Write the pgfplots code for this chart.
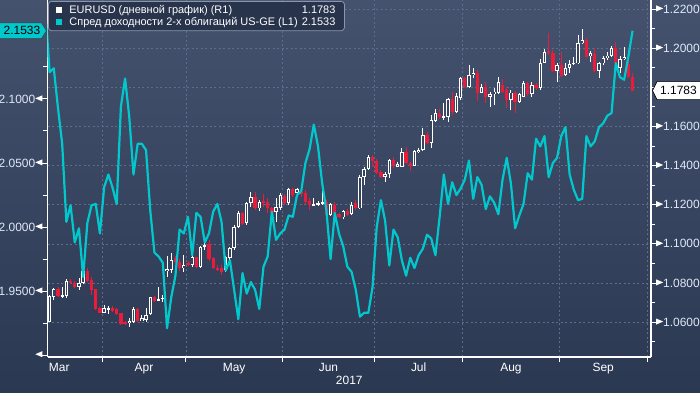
\documentclass[border=0pt]{standalone}
\usepackage{fontspec}
\setmainfont{Liberation Sans}
\usepackage{pgfplots}
\usepackage{pgfplotstable}
\pgfplotsset{compat=1.18}
\definecolor{bgtop}{RGB}{68,82,110}
\definecolor{bgbot}{RGB}{43,56,82}
\definecolor{bodyin}{RGB}{54,67,94}
\definecolor{tealc}{RGB}{0,200,204}
\definecolor{redc}{RGB}{235,28,58}
\definecolor{gridc}{RGB}{92,110,140}
\definecolor{tickc}{RGB}{222,232,246}
\definecolor{legbg}{RGB}{40,52,76}
\definecolor{legbd}{RGB}{140,150,168}

\pgfplotstableread{
i o h l c
0 1.0602 1.0739 1.0600 1.0734
1 1.0730 1.0773 1.0713 1.0768
2 1.0768 1.0778 1.0730 1.0734
3 1.0730 1.0781 1.0722 1.0739
4 1.0735 1.0819 1.0722 1.0812
5 1.0812 1.0819 1.0795 1.0798
6 1.0802 1.0810 1.0775 1.0781
7 1.0781 1.0824 1.0764 1.0802
8 1.0800 1.0880 1.0795 1.0862
9 1.0862 1.0875 1.0805 1.0812
10 1.0815 1.0832 1.0739 1.0764
11 1.0768 1.0771 1.0662 1.0667
12 1.0674 1.0679 1.0645 1.0648
13 1.0648 1.0688 1.0645 1.0671
14 1.0665 1.0683 1.0642 1.0671
15 1.0672 1.0683 1.0654 1.0659
16 1.0665 1.0671 1.0636 1.0642
17 1.0645 1.0648 1.0585 1.0589
18 1.0602 1.0608 1.0585 1.0594
19 1.0594 1.0623 1.0577 1.0608
20 1.0602 1.0676 1.0594 1.0667
21 1.0667 1.0674 1.0602 1.0608
22 1.0608 1.0636 1.0608 1.0619
23 1.0611 1.0671 1.0602 1.0636
24 1.0642 1.0730 1.0636 1.0727
25 1.0727 1.0734 1.0705 1.0710
26 1.0710 1.0781 1.0710 1.0717
27 1.0717 1.0739 1.0705 1.0725
28 1.0860 1.0938 1.0830 1.0872
29 1.0866 1.0951 1.0849 1.0917
30 1.0926 1.0940 1.0900 1.0909
31 1.0909 1.0925 1.0860 1.0875
32 1.0875 1.0943 1.0857 1.0892
33 1.0903 1.0915 1.0885 1.0895
34 1.0892 1.0940 1.0880 1.0931
35 1.0931 1.0935 1.0875 1.0883
36 1.0883 1.0990 1.0878 1.0985
37 1.0985 1.1028 1.0968 1.0994
38 1.0999 1.1022 1.0915 1.0922
39 1.0926 1.0935 1.0870 1.0875
40 1.0875 1.0890 1.0860 1.0869
41 1.0875 1.0892 1.0840 1.0857
42 1.0866 1.0940 1.0855 1.0934
43 1.0926 1.0985 1.0915 1.0977
44 1.0977 1.1095 1.0970 1.1088
45 1.1088 1.1170 1.1080 1.1159
46 1.1159 1.1165 1.1095 1.1101
47 1.1105 1.1212 1.1095 1.1207
48 1.1207 1.1266 1.1190 1.1241
49 1.1241 1.1266 1.1173 1.1181
50 1.1181 1.1225 1.1170 1.1215
51 1.1219 1.1255 1.1190 1.1210
52 1.1215 1.1232 1.1159 1.1181
53 1.1181 1.1190 1.1113 1.1164
54 1.1164 1.1232 1.1113 1.1190
55 1.1185 1.1258 1.1173 1.1249
56 1.1244 1.1255 1.1200 1.1210
57 1.1210 1.1285 1.1200 1.1280
58 1.1278 1.1285 1.1240 1.1249
59 1.1258 1.1283 1.1249 1.1278
60 1.1266 1.1275 1.1241 1.1258
61 1.1261 1.1275 1.1204 1.1215
62 1.1219 1.1232 1.1173 1.1198
63 1.1198 1.1232 1.1195 1.1202
64 1.1202 1.1220 1.1195 1.1210
65 1.1207 1.1300 1.1198 1.1215
66 1.1215 1.1225 1.1140 1.1147
67 1.1147 1.1210 1.1140 1.1202
68 1.1198 1.1215 1.1139 1.1156
69 1.1152 1.1160 1.1130 1.1135
70 1.1135 1.1175 1.1125 1.1169
71 1.1169 1.1180 1.1140 1.1147
72 1.1151 1.1215 1.1147 1.1198
73 1.1207 1.1224 1.1173 1.1181
74 1.1181 1.1352 1.1180 1.1343
75 1.1340 1.1394 1.1300 1.1382
76 1.1382 1.1454 1.1375 1.1445
77 1.1445 1.1454 1.1394 1.1425
78 1.1425 1.1432 1.1357 1.1364
79 1.1369 1.1380 1.1335 1.1343
80 1.1343 1.1369 1.1318 1.1357
81 1.1357 1.1432 1.1335 1.1428
82 1.1428 1.1445 1.1386 1.1399
83 1.1394 1.1420 1.1394 1.1408
84 1.1394 1.1488 1.1391 1.1467
85 1.1467 1.1496 1.1408 1.1411
86 1.1411 1.1420 1.1374 1.1399
87 1.1399 1.1479 1.1396 1.1474
88 1.1467 1.1488 1.1462 1.1479
89 1.1479 1.1590 1.1476 1.1556
90 1.1556 1.1570 1.1510 1.1517
91 1.1517 1.1658 1.1488 1.1633
92 1.1628 1.1687 1.1624 1.1667
93 1.1663 1.1687 1.1636 1.1646
94 1.1646 1.1718 1.1633 1.1653
95 1.1650 1.1744 1.1624 1.1738
96 1.1738 1.1778 1.1658 1.1675
97 1.1675 1.1769 1.1667 1.1756
98 1.1744 1.1854 1.1735 1.1849
99 1.1849 1.1855 1.1795 1.1803
100 1.1803 1.1914 1.1795 1.1863
101 1.1863 1.1897 1.1846 1.1875
102 1.1875 1.1888 1.1732 1.1773
103 1.1773 1.1817 1.1769 1.1803
104 1.1803 1.1829 1.1721 1.1752
105 1.1752 1.1778 1.1698 1.1766
106 1.1766 1.1795 1.1710 1.1778
107 1.1773 1.1854 1.1766 1.1829
108 1.1812 1.1841 1.1769 1.1778
109 1.1786 1.1803 1.1692 1.1735
110 1.1735 1.1786 1.1684 1.1773
111 1.1773 1.1783 1.1670 1.1727
112 1.1727 1.1773 1.1718 1.1766
113 1.1752 1.1834 1.1749 1.1824
114 1.1820 1.1829 1.1756 1.1766
115 1.1766 1.1829 1.1749 1.1812
116 1.1812 1.1824 1.1786 1.1798
117 1.1798 1.1943 1.1786 1.1926
118 1.1926 1.1994 1.1922 1.1982
119 1.1986 1.2076 1.1965 1.1974
120 1.1974 1.1991 1.1880 1.1885
121 1.1885 1.1926 1.1829 1.1914
122 1.1914 1.1982 1.1854 1.1858
123 1.1863 1.1926 1.1858 1.1897
124 1.1897 1.1940 1.1871 1.1919
125 1.1919 1.1953 1.1914 1.1926
126 1.1922 1.2067 1.1919 1.2025
127 1.2025 1.2096 1.2021 1.2042
128 1.2042 1.2050 1.1955 1.1957
129 1.1960 1.1987 1.1931 1.1974
130 1.1970 1.2000 1.1880 1.1885
131 1.1885 1.1931 1.1846 1.1922
132 1.1922 1.1960 1.1914 1.1948
133 1.1948 1.1982 1.1940 1.1962
134 1.1962 1.2011 1.1957 1.2000
135 1.2000 1.2033 1.1897 1.1922
136 1.1897 1.1960 1.1871 1.1943
137 1.1943 1.2008 1.1940 1.1953
138 1.1919 1.1943 1.1846 1.1851
139 1.1851 1.1871 1.1783 1.1783
}\candles

\pgfplotstableread{
i s
-1 2.170
0 2.121
1 2.124
2 2.093
3 2.065
4 2.004
5 2.017
6 1.988
7 1.999
8 1.961
9 2.003
10 2.017
11 2.018
12 1.995
13 2.031
14 2.041
15 2.031
16 2.018
17 2.094
18 2.116
19 2.086
20 2.041
21 2.065
22 2.065
23 2.060
24 2.013
25 1.980
26 1.977
27 1.972
28 1.921
29 1.945
30 1.962
31 1.998
32 1.995
33 2.008
34 1.978
35 2.011
36 2.008
37 1.988
38 1.995
39 2.012
40 2.018
41 2.004
42 1.966
43 1.974
44 1.951
45 1.928
46 1.964
47 1.948
48 1.957
49 1.951
50 1.936
51 1.969
52 1.977
53 2.012
54 1.990
55 1.995
56 1.998
57 2.009
58 2.008
59 2.025
60 2.028
61 2.050
62 2.061
63 2.080
64 2.063
65 2.034
66 2.013
67 1.975
68 2.011
69 1.995
70 1.985
71 1.969
72 1.965
73 1.951
74 1.930
75 1.933
76 1.933
77 1.953
78 2.000
79 2.021
80 2.005
81 1.970
82 1.998
83 1.992
84 1.974
85 1.962
86 1.976
87 1.968
88 1.978
89 1.983
90 1.994
91 1.991
92 1.978
93 2.008
94 2.041
95 2.018
96 2.035
97 2.025
98 2.030
99 2.037
100 2.052
101 2.022
102 2.039
103 2.033
104 2.014
105 2.024
106 2.019
107 2.010
108 2.037
109 2.054
110 2.034
111 1.999
112 2.009
113 2.018
114 2.042
115 2.037
116 2.069
117 2.063
118 2.071
119 2.039
120 2.050
121 2.054
122 2.071
123 2.078
124 2.041
125 2.029
126 2.021
127 2.022
128 2.071
129 2.063
130 2.067
131 2.078
132 2.081
133 2.087
134 2.089
135 2.128
136 2.117
137 2.115
138 2.133
139 2.1533
}\spread

\newcommand{\ltri}{\tikz[baseline=-0.75ex]\fill[white] (0,0)--(7bp,3bp)--(7bp,-3bp)--cycle;}
\newcommand{\rtri}{\tikz[baseline=-0.75ex]\fill[white] (0,3bp)--(7bp,0)--(0,-3bp)--cycle;}

\begin{document}
\begin{tikzpicture}
\shade[top color=bgtop, bottom color=bgbot] (-47.5bp,-36bp) rectangle (652.5bp,357bp);
\path[use as bounding box] (-47.5bp,-36bp) rectangle (652.5bp,357bp);

% ---------- EURUSD candles, right axis ----------
\begin{axis}[
  at={(0,0)}, anchor=south west, scale only axis,
  width=603.5bp, height=357bp,
  xmin=0, xmax=143.9, ymin=1.0422, ymax=1.2246,
  axis y line*=right, axis x line*=bottom,
  axis line style={white, line width=1.1bp, -},
  clip mode=individual,
  /pgf/number format/assume math mode=true,
  tick align=outside,
  major tick length=5bp, minor tick length=4bp,
  tick style={white, line width=1bp},
  xtick={13,33,56,78,99,122,143}, xticklabels={},
  extra x ticks={2.8,23,44.5,67,88.5,110.5,132.5},
  extra x tick labels={Mar,Apr,May,Jun,Jul,Aug,Sep},
  extra x tick style={grid=none, major tick length=0pt},
  xticklabel style={text=white, font=\fontsize{12}{14}\selectfont, inner sep=0pt, yshift=-6bp},
  xlabel={2017},
  xlabel style={at={(axis description cs:0.5,0)}, anchor=north, yshift=-19bp, text=white, font=\fontsize{12}{14}\selectfont, inner sep=0pt},
  ytick={1.06,1.08,1.10,1.12,1.14,1.16,1.20,1.22},
  extra y ticks={1.18}, extra y tick labels={},
  extra y tick style={grid=major},
  minor ytick={1.05,1.07,1.09,1.11,1.13,1.15,1.17,1.19,1.21},
  yticklabel={\rtri\pgfmathprintnumber[fixed,fixed zerofill,precision=4]{\tick}},
  yticklabel style={anchor=west, inner sep=0pt, text=tickc, font=\fontsize{12}{14}\selectfont},
  xmajorgrids, ymajorgrids,
  major grid style={gridc, dash pattern=on 2bp off 2.5bp, line width=0.7bp},
]
% white wicks
\addplot[forget plot, draw=none, mark=none, error bars/.cd, y dir=both, y explicit, error mark=none,
  error bar style={draw=white, line width=0.9bp}]
  table[x expr=\thisrow{i}+0.5, y expr=(\thisrow{h}+\thisrow{l})/2,
        y error expr={(\thisrow{c}>=\thisrow{o}) ? (\thisrow{h}-\thisrow{l})/2 : 0}] {\candles};
% red wicks
\addplot[forget plot, draw=none, mark=none, error bars/.cd, y dir=both, y explicit, error mark=none,
  error bar style={draw=redc, line width=0.9bp}]
  table[x expr=\thisrow{i}+0.5, y expr=(\thisrow{h}+\thisrow{l})/2,
        y error expr={(\thisrow{c}<\thisrow{o}) ? (\thisrow{h}-\thisrow{l})/2 : 0}] {\candles};
% white bodies (outer)
\addplot[forget plot, draw=none, mark=none, error bars/.cd, y dir=both, y explicit, error mark=none,
  error bar style={draw=white, line width=3.3bp}]
  table[x expr=\thisrow{i}+0.5, y expr=(\thisrow{o}+\thisrow{c})/2,
        y error expr={(\thisrow{c}>=\thisrow{o}) ? max((\thisrow{c}-\thisrow{o})/2,0.0003) : 0}] {\candles};
% white bodies (hollow inside)
\addplot[forget plot, draw=none, mark=none, error bars/.cd, y dir=both, y explicit, error mark=none,
  error bar style={draw=bodyin, line width=1.5bp}]
  table[x expr=\thisrow{i}+0.5, y expr=(\thisrow{o}+\thisrow{c})/2,
        y error expr={(\thisrow{c}>=\thisrow{o}) ? max((\thisrow{c}-\thisrow{o})/2-0.00046,0) : 0}] {\candles};
% red bodies
\addplot[forget plot, draw=none, mark=none, error bars/.cd, y dir=both, y explicit, error mark=none,
  error bar style={draw=redc, line width=3.3bp}]
  table[x expr=\thisrow{i}+0.5, y expr=(\thisrow{o}+\thisrow{c})/2,
        y error expr={(\thisrow{c}<\thisrow{o}) ? max((\thisrow{o}-\thisrow{c})/2,0.0003) : 0}] {\candles};
\coordinate (tagR) at (axis cs:143.9,1.1783);
\end{axis}

% ---------- yield spread, left axis ----------
\begin{axis}[
  at={(0,0)}, anchor=south west, scale only axis,
  width=603.5bp, height=357bp,
  xmin=0, xmax=143.9, ymin=1.8985, ymax=2.1773,
  axis y line*=left, hide x axis,
  axis line style={white, line width=1.1bp, -},
  clip mode=individual,
  /pgf/number format/assume math mode=true,
  tick align=outside,
  major tick length=5bp, minor tick length=4bp,
  tick style={white, line width=1bp},
  ytick={1.95,2.0,2.05,2.1},
  minor ytick={1.925,1.975,2.025,2.075,2.125},
  extra y ticks={1.9}, extra y tick labels={\ltri},
  yticklabel={\pgfmathprintnumber[fixed,fixed zerofill,precision=4]{\tick}\ltri},
  yticklabel style={anchor=east, inner sep=0pt, text=tickc, font=\fontsize{12}{14}\selectfont},
  legend style={at={(axis description cs:0,1)}, anchor=north west, xshift=0.5bp, yshift=-1bp,
    draw=legbd, fill=legbg, rounded corners=3bp, line width=0.8bp,
    text=white, font=\fontsize{11}{13}\selectfont,
    inner xsep=7.5bp, inner ysep=2.5bp, row sep=-1bp,
    nodes={inner sep=1.5bp}},
  legend cell align=left,
]
\addlegendimage{legend image code/.code={\fill[white, draw=none, sharp corners] (0bp,-3.2bp) rectangle (6.5bp,3.3bp); \path[draw=none, fill=none] (0bp,0bp) -- (12bp,0bp);}}
\addlegendentry{\makebox[266bp][l]{EURUSD (дневной график) (R1)\hfill 1.1783}}
\addplot[tealc, line width=2.2bp, line join=round, mark=none,
  legend image code/.code={\fill[tealc, draw=none, sharp corners] (0bp,-3.2bp) rectangle (6.5bp,3.3bp); \path[draw=none, fill=none] (0bp,0bp) -- (12bp,0bp);}]
  table[x expr=\thisrow{i}+0.5, y=s] {\spread};
\addlegendentry{\makebox[266bp][l]{Спред доходности 2-х облигаций US-GE (L1)\hfill 2.1533}}
\coordinate (tagL) at (axis cs:0,2.1533);
\end{axis}

% value tags
\draw[fill=tealc, draw=black!75, line width=0.6bp]
  ([xshift=-1bp]tagL) -- ++(-5bp,8bp) -- ++(-50bp,0) -- ++(0,-16bp) -- ++(50bp,0) -- cycle;
\node[anchor=east, text=black, inner sep=0pt, font=\fontsize{12}{14}\selectfont] at ([xshift=-7bp]tagL) {2.1533};
\draw[fill=white, draw=black, line width=0.6bp]
  ([xshift=1.5bp]tagR) -- ++(4.5bp,9bp) -- ++(50bp,0) -- ++(0,-18bp) -- ++(-50bp,0) -- cycle;
\node[anchor=west, text=black, inner sep=0pt, font=\fontsize{12}{14}\selectfont] at ([xshift=9bp]tagR) {1.1783};
\end{tikzpicture}
\end{document}
